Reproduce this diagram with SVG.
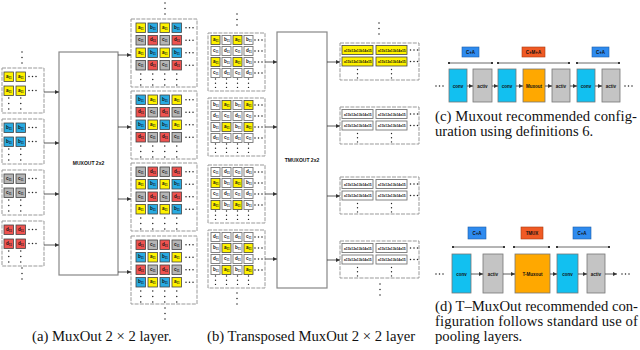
<svg xmlns="http://www.w3.org/2000/svg" width="640" height="350" viewBox="0 0 640 350">
<style>
.cl{stroke:#444;stroke-width:0.8}
.cw{stroke:#777;stroke-width:0.9;fill:#fff}
.ct{font-family:"Liberation Sans",Arial,sans-serif;font-size:4.6px;font-weight:bold;fill:#111}
.sb{font-size:2.8px}
.grp{fill:#fff;stroke:#999;stroke-width:1;stroke-dasharray:4 1.2}
.box{fill:#fff;stroke:#888;stroke-width:1.2}
.lbl{font-family:"Liberation Sans",Arial,sans-serif;font-size:5px;font-weight:bold;fill:#111;text-anchor:middle}
.con line{stroke:#333;stroke-width:0.8;marker-end:url(#ah)}
.span line{stroke:#444;stroke-width:0.8;marker-start:url(#dt);marker-end:url(#dt)}
.cap{font-family:"Liberation Serif","Times New Roman",serif;font-size:14.7px;fill:#111}
.blk{stroke:#777;stroke-width:0.8}
.bt{font-family:"Liberation Sans",Arial,sans-serif;font-size:4.5px;font-weight:bold;fill:#111;text-anchor:middle}
.dots{fill:#222}
.wt{font-family:"Liberation Sans",Arial,sans-serif;font-size:3.3px;font-weight:bold;fill:#111}
.cy{fill:#fff200}.cb{fill:#29abe2}.cg{fill:#b5b5b5}.cr{fill:#ef5350}
.lb{fill:#2e8bef;stroke:#1d5ea8;stroke-width:0.6}
.lo{fill:#f05a24;stroke:#a83a10;stroke-width:0.6}
.bc{fill:#12c0f0}.bg{fill:#c4c4c4}.bo{fill:#ffa800}
</style>
<defs>
<marker id="ah" viewBox="0 0 6 6" refX="6" refY="3" markerWidth="5" markerHeight="5" orient="auto"><path d="M0,0L6,3L0,6z" fill="#333"/></marker>
<marker id="dt" viewBox="0 0 4 4" refX="2" refY="2" markerWidth="3" markerHeight="3"><circle cx="2" cy="2" r="2" fill="#333"/></marker>
<g id="hd" class="dots"><circle cx="0" cy="0" r="0.75"/><circle cx="3.5" cy="0" r="0.75"/><circle cx="7" cy="0" r="0.75"/></g>
<g id="vd" class="dots"><circle cx="0" cy="0" r="0.75"/><circle cx="0" cy="5.5" r="0.75"/><circle cx="0" cy="11" r="0.75"/></g>
<g id="vs" class="dots"><circle cx="0" cy="0" r="0.7"/><circle cx="0" cy="4.2" r="0.7"/><circle cx="0" cy="8.4" r="0.7"/></g>
<g id="a"><rect class="cl cy" width="9.5" height="9.5"/><text class="ct" x="2" y="5.6">a<tspan class="sb" dy="1.2">11</tspan></text></g>
<g id="b"><rect class="cl cb" width="9.5" height="9.5"/><text class="ct" x="2" y="5.6">b<tspan class="sb" dy="1.2">11</tspan></text></g>
<g id="c"><rect class="cl cg" width="9.5" height="9.5"/><text class="ct" x="2" y="5.6">c<tspan class="sb" dy="1.2">11</tspan></text></g>
<g id="d"><rect class="cl cr" width="9.5" height="9.5"/><text class="ct" x="2" y="5.6">d<tspan class="sb" dy="1.2">11</tspan></text></g>
<g id="ya"><rect class="cl cy" width="9" height="9"/><text class="ct" x="2" y="5.4">a<tspan class="sb" dy="1.2">11</tspan></text></g>
<g id="wb"><rect class="cw" width="9" height="9"/><text class="ct" x="2" y="5.4">b<tspan class="sb" dy="1.2">11</tspan></text></g>
<g id="wc"><rect class="cw" width="9" height="9"/><text class="ct" x="2" y="5.4">c<tspan class="sb" dy="1.2">11</tspan></text></g>
<g id="wd"><rect class="cw" width="9" height="9"/><text class="ct" x="2" y="5.4">d<tspan class="sb" dy="1.2">11</tspan></text></g>
<g id="wy"><rect class="cl cy" width="31" height="9"/><text class="wt" x="2" y="6">a11b12a13b14a15</text></g>
<g id="ww"><rect class="cw" width="31" height="9"/><text class="wt" x="2" y="6">a11b12a13b14a15</text></g>
</defs>
<rect width="640" height="350" fill="#fff"/>

<!-- Panel (a) inputs -->
<g id="a-in-1"><rect class="grp" x="2" y="68" width="42" height="45"/>
<use href="#a" x="4" y="72"/><use href="#a" x="16" y="72"/><use href="#a" x="4" y="86"/><use href="#a" x="16" y="86"/>
<use href="#hd" x="29" y="76.5"/><use href="#hd" x="29" y="90.5"/><use href="#vd" x="8.75" y="98"/><use href="#vd" x="20.75" y="98"/></g>
<g id="a-in-2"><rect class="grp" x="2" y="119" width="42" height="45"/>
<use href="#b" x="4" y="123"/><use href="#b" x="16" y="123"/><use href="#b" x="4" y="137"/><use href="#b" x="16" y="137"/>
<use href="#hd" x="29" y="127.5"/><use href="#hd" x="29" y="141.5"/><use href="#vd" x="8.75" y="149"/><use href="#vd" x="20.75" y="149"/></g>
<g id="a-in-3"><rect class="grp" x="2" y="170" width="42" height="45"/>
<use href="#c" x="4" y="174"/><use href="#c" x="16" y="174"/><use href="#c" x="4" y="188"/><use href="#c" x="16" y="188"/>
<use href="#hd" x="29" y="178.5"/><use href="#hd" x="29" y="192.5"/><use href="#vd" x="8.75" y="200"/><use href="#vd" x="20.75" y="200"/></g>
<g id="a-in-4"><rect class="grp" x="2" y="221" width="42" height="45"/>
<use href="#d" x="4" y="225"/><use href="#d" x="16" y="225"/><use href="#d" x="4" y="239"/><use href="#d" x="16" y="239"/>
<use href="#hd" x="29" y="229.5"/><use href="#hd" x="29" y="243.5"/><use href="#vd" x="8.75" y="251"/><use href="#vd" x="20.75" y="251"/></g>
<use href="#vd" x="22" y="52"/><use href="#vd" x="22" y="268"/>

<g id="muxout"><rect class="box" x="59" y="52" width="59" height="223"/><text class="lbl" x="88.5" y="165">MUXOUT 2x2</text></g>

<!-- Panel (a) outputs -->
<g id="a-out-1"><rect class="grp" x="131" y="19" width="66" height="68"/>
<use href="#a" x="136" y="23"/><use href="#b" x="148" y="23"/><use href="#a" x="160" y="23"/><use href="#b" x="172" y="23"/>
<use href="#c" x="136" y="35.5"/><use href="#d" x="148" y="35.5"/><use href="#c" x="160" y="35.5"/><use href="#d" x="172" y="35.5"/>
<use href="#a" x="136" y="48"/><use href="#b" x="148" y="48"/><use href="#a" x="160" y="48"/><use href="#b" x="172" y="48"/>
<use href="#c" x="136" y="60.5"/><use href="#d" x="148" y="60.5"/><use href="#c" x="160" y="60.5"/><use href="#d" x="172" y="60.5"/>
<use href="#hd" x="186" y="27.75"/><use href="#hd" x="186" y="40.25"/><use href="#hd" x="186" y="52.75"/><use href="#hd" x="186" y="65.25"/>
<use href="#vd" x="140.75" y="74"/><use href="#vd" x="152.75" y="74"/><use href="#vd" x="164.75" y="74"/><use href="#vd" x="176.75" y="74"/></g>
<g id="a-out-2"><rect class="grp" x="131" y="91" width="66" height="68"/>
<use href="#b" x="136" y="95"/><use href="#a" x="148" y="95"/><use href="#b" x="160" y="95"/><use href="#a" x="172" y="95"/>
<use href="#d" x="136" y="107.5"/><use href="#c" x="148" y="107.5"/><use href="#d" x="160" y="107.5"/><use href="#c" x="172" y="107.5"/>
<use href="#b" x="136" y="120"/><use href="#a" x="148" y="120"/><use href="#b" x="160" y="120"/><use href="#a" x="172" y="120"/>
<use href="#d" x="136" y="132.5"/><use href="#c" x="148" y="132.5"/><use href="#d" x="160" y="132.5"/><use href="#c" x="172" y="132.5"/>
<use href="#hd" x="186" y="99.75"/><use href="#hd" x="186" y="112.25"/><use href="#hd" x="186" y="124.75"/><use href="#hd" x="186" y="137.25"/>
<use href="#vd" x="140.75" y="146"/><use href="#vd" x="152.75" y="146"/><use href="#vd" x="164.75" y="146"/><use href="#vd" x="176.75" y="146"/></g>
<g id="a-out-3"><rect class="grp" x="131" y="163" width="66" height="68"/>
<use href="#c" x="136" y="167"/><use href="#d" x="148" y="167"/><use href="#c" x="160" y="167"/><use href="#d" x="172" y="167"/>
<use href="#a" x="136" y="179.5"/><use href="#b" x="148" y="179.5"/><use href="#a" x="160" y="179.5"/><use href="#b" x="172" y="179.5"/>
<use href="#c" x="136" y="192"/><use href="#d" x="148" y="192"/><use href="#c" x="160" y="192"/><use href="#d" x="172" y="192"/>
<use href="#a" x="136" y="204.5"/><use href="#b" x="148" y="204.5"/><use href="#a" x="160" y="204.5"/><use href="#b" x="172" y="204.5"/>
<use href="#hd" x="186" y="171.75"/><use href="#hd" x="186" y="184.25"/><use href="#hd" x="186" y="196.75"/><use href="#hd" x="186" y="209.25"/>
<use href="#vd" x="140.75" y="218"/><use href="#vd" x="152.75" y="218"/><use href="#vd" x="164.75" y="218"/><use href="#vd" x="176.75" y="218"/></g>
<g id="a-out-4"><rect class="grp" x="131" y="236" width="66" height="68"/>
<use href="#d" x="136" y="240"/><use href="#c" x="148" y="240"/><use href="#d" x="160" y="240"/><use href="#c" x="172" y="240"/>
<use href="#b" x="136" y="252.5"/><use href="#a" x="148" y="252.5"/><use href="#b" x="160" y="252.5"/><use href="#a" x="172" y="252.5"/>
<use href="#d" x="136" y="265"/><use href="#c" x="148" y="265"/><use href="#d" x="160" y="265"/><use href="#c" x="172" y="265"/>
<use href="#b" x="136" y="277.5"/><use href="#a" x="148" y="277.5"/><use href="#b" x="160" y="277.5"/><use href="#a" x="172" y="277.5"/>
<use href="#hd" x="186" y="244.75"/><use href="#hd" x="186" y="257.25"/><use href="#hd" x="186" y="269.75"/><use href="#hd" x="186" y="282.25"/>
<use href="#vd" x="140.75" y="291"/><use href="#vd" x="152.75" y="291"/><use href="#vd" x="164.75" y="291"/><use href="#vd" x="176.75" y="291"/></g>
<use href="#vd" x="165" y="3"/><use href="#vd" x="165" y="308"/>

<!-- Panel (b) inputs -->
<g id="b-in-1"><rect class="grp" x="208" y="33" width="57" height="58"/>
<use href="#ya" x="211" y="35.5"/><use href="#wb" x="222" y="35.5"/><use href="#ya" x="233" y="35.5"/><use href="#wb" x="244" y="35.5"/>
<use href="#wc" x="211" y="46.5"/><use href="#wd" x="222" y="46.5"/><use href="#wc" x="233" y="46.5"/><use href="#wd" x="244" y="46.5"/>
<use href="#ya" x="211" y="57.5"/><use href="#wb" x="222" y="57.5"/><use href="#ya" x="233" y="57.5"/><use href="#wb" x="244" y="57.5"/>
<use href="#wc" x="211" y="68.5"/><use href="#wd" x="222" y="68.5"/><use href="#wc" x="233" y="68.5"/><use href="#wd" x="244" y="68.5"/>
<use href="#hd" x="255" y="40"/><use href="#hd" x="255" y="51"/><use href="#hd" x="255" y="62"/><use href="#hd" x="255" y="73"/>
<use href="#vs" x="215.5" y="79"/><use href="#vs" x="226.5" y="79"/><use href="#vs" x="237.5" y="79"/><use href="#vs" x="248.5" y="79"/></g>
<g id="b-in-2"><rect class="grp" x="208" y="98" width="57" height="58"/>
<use href="#wb" x="211" y="100.5"/><use href="#ya" x="222" y="100.5"/><use href="#wb" x="233" y="100.5"/><use href="#ya" x="244" y="100.5"/>
<use href="#wd" x="211" y="111.5"/><use href="#wc" x="222" y="111.5"/><use href="#wd" x="233" y="111.5"/><use href="#wc" x="244" y="111.5"/>
<use href="#wb" x="211" y="122.5"/><use href="#ya" x="222" y="122.5"/><use href="#wb" x="233" y="122.5"/><use href="#ya" x="244" y="122.5"/>
<use href="#wd" x="211" y="133.5"/><use href="#wc" x="222" y="133.5"/><use href="#wd" x="233" y="133.5"/><use href="#wc" x="244" y="133.5"/>
<use href="#hd" x="255" y="105"/><use href="#hd" x="255" y="116"/><use href="#hd" x="255" y="127"/><use href="#hd" x="255" y="138"/>
<use href="#vs" x="215.5" y="144"/><use href="#vs" x="226.5" y="144"/><use href="#vs" x="237.5" y="144"/><use href="#vs" x="248.5" y="144"/></g>
<g id="b-in-3"><rect class="grp" x="208" y="165" width="57" height="58"/>
<use href="#wc" x="211" y="167.5"/><use href="#wd" x="222" y="167.5"/><use href="#wc" x="233" y="167.5"/><use href="#wd" x="244" y="167.5"/>
<use href="#ya" x="211" y="178.5"/><use href="#wb" x="222" y="178.5"/><use href="#ya" x="233" y="178.5"/><use href="#wb" x="244" y="178.5"/>
<use href="#wc" x="211" y="189.5"/><use href="#wd" x="222" y="189.5"/><use href="#wc" x="233" y="189.5"/><use href="#wd" x="244" y="189.5"/>
<use href="#ya" x="211" y="200.5"/><use href="#wb" x="222" y="200.5"/><use href="#ya" x="233" y="200.5"/><use href="#wb" x="244" y="200.5"/>
<use href="#hd" x="255" y="172"/><use href="#hd" x="255" y="183"/><use href="#hd" x="255" y="194"/><use href="#hd" x="255" y="205"/>
<use href="#vs" x="215.5" y="211"/><use href="#vs" x="226.5" y="211"/><use href="#vs" x="237.5" y="211"/><use href="#vs" x="248.5" y="211"/></g>
<g id="b-in-4"><rect class="grp" x="208" y="230" width="57" height="58"/>
<use href="#wd" x="211" y="232.5"/><use href="#wc" x="222" y="232.5"/><use href="#wd" x="233" y="232.5"/><use href="#wc" x="244" y="232.5"/>
<use href="#wb" x="211" y="243.5"/><use href="#ya" x="222" y="243.5"/><use href="#wb" x="233" y="243.5"/><use href="#ya" x="244" y="243.5"/>
<use href="#wd" x="211" y="254.5"/><use href="#wc" x="222" y="254.5"/><use href="#wd" x="233" y="254.5"/><use href="#wc" x="244" y="254.5"/>
<use href="#wb" x="211" y="265.5"/><use href="#ya" x="222" y="265.5"/><use href="#wb" x="233" y="265.5"/><use href="#ya" x="244" y="265.5"/>
<use href="#hd" x="255" y="237"/><use href="#hd" x="255" y="248"/><use href="#hd" x="255" y="259"/><use href="#hd" x="255" y="270"/>
<use href="#vs" x="215.5" y="276"/><use href="#vs" x="226.5" y="276"/><use href="#vs" x="237.5" y="276"/><use href="#vs" x="248.5" y="276"/></g>
<use href="#vd" x="237" y="14"/><use href="#vd" x="237" y="293"/>

<g id="tmuxout"><rect class="box" x="277" y="32" width="50" height="256"/><text class="lbl" x="302" y="162">TMUXOUT 2x2</text></g>

<!-- Panel (b) outputs -->
<g id="b-out-1"><rect class="grp" x="340" y="43" width="79" height="37"/>
<use href="#wy" x="342" y="45.5"/><use href="#wy" x="376" y="45.5"/><use href="#wy" x="342" y="57"/><use href="#wy" x="376" y="57"/>
<use href="#hd" x="410.5" y="50"/><use href="#hd" x="410.5" y="61.5"/><use href="#vs" x="357.5" y="69.5"/><use href="#vs" x="391.5" y="69.5"/></g>
<g id="b-out-2"><rect class="grp" x="340" y="107" width="79" height="37"/>
<use href="#ww" x="342" y="109.5"/><use href="#ww" x="376" y="109.5"/><use href="#ww" x="342" y="121"/><use href="#ww" x="376" y="121"/>
<use href="#hd" x="410.5" y="114"/><use href="#hd" x="410.5" y="125.5"/><use href="#vs" x="357.5" y="133.5"/><use href="#vs" x="391.5" y="133.5"/></g>
<g id="b-out-3"><rect class="grp" x="340" y="177" width="79" height="37"/>
<use href="#ww" x="342" y="179.5"/><use href="#ww" x="376" y="179.5"/><use href="#ww" x="342" y="191"/><use href="#ww" x="376" y="191"/>
<use href="#hd" x="410.5" y="184"/><use href="#hd" x="410.5" y="195.5"/><use href="#vs" x="357.5" y="203.5"/><use href="#vs" x="391.5" y="203.5"/></g>
<g id="b-out-4"><rect class="grp" x="340" y="241" width="79" height="37"/>
<use href="#ww" x="342" y="243.5"/><use href="#ww" x="376" y="243.5"/><use href="#ww" x="342" y="255"/><use href="#ww" x="376" y="255"/>
<use href="#hd" x="410.5" y="248"/><use href="#hd" x="410.5" y="259.5"/><use href="#vs" x="357.5" y="267.5"/><use href="#vs" x="391.5" y="267.5"/></g>
<use href="#vd" x="379" y="23"/><use href="#vd" x="380" y="284"/>

<!-- Panel (c) -->
<g id="c-labels">
<rect class="lb" x="462" y="47" width="17" height="10"/><text class="bt" x="470.5" y="53.6">C+A</text>
<rect class="lo" x="522" y="47" width="23" height="10"/><text class="bt" x="533.5" y="53.6">C+M+A</text>
<rect class="lb" x="592" y="47" width="17" height="10"/><text class="bt" x="600.5" y="53.6">C+A</text></g>
<g id="c-spans" class="span"><line x1="449" y1="63" x2="492" y2="63"/><line x1="498" y1="63" x2="569" y2="63"/><line x1="577" y1="63" x2="619" y2="63"/></g>
<g id="c-conv1"><rect class="blk bc" x="449" y="69" width="18" height="33"/><text class="bt" x="458" y="87.5">conv</text></g>
<g id="c-activ1"><rect class="blk bg" x="473" y="69" width="19" height="33"/><text class="bt" x="482.5" y="87.5">activ</text></g>
<g id="c-conv2"><rect class="blk bc" x="498" y="69" width="18" height="33"/><text class="bt" x="507" y="87.5">conv</text></g>
<g id="c-muxout"><rect class="blk bo" x="523" y="69" width="22" height="33"/><text class="bt" x="534" y="87.5">Muxout</text></g>
<g id="c-activ2"><rect class="blk bg" x="552" y="69" width="18" height="33"/><text class="bt" x="561" y="87.5">activ</text></g>
<g id="c-conv3"><rect class="blk bc" x="577" y="69" width="18" height="33"/><text class="bt" x="586" y="87.5">conv</text></g>
<g id="c-activ3"><rect class="blk bg" x="602" y="69" width="18" height="33"/><text class="bt" x="611" y="87.5">activ</text></g>
<use href="#hd" x="436" y="86"/><use href="#hd" x="625" y="86"/>

<!-- Panel (d) -->
<g id="d-labels">
<rect class="lb" x="468" y="227" width="18" height="12"/><text class="bt" x="477" y="234.6">C+A</text>
<rect class="lo" x="521" y="227" width="22" height="12"/><text class="bt" x="532" y="234.6">TMUX</text>
<rect class="lb" x="573" y="227" width="18" height="12"/><text class="bt" x="582" y="234.6">C+A</text></g>
<g id="d-spans" class="span"><line x1="453" y1="247" x2="504" y2="247"/><line x1="514" y1="247" x2="549" y2="247"/><line x1="557" y1="247" x2="609" y2="247"/></g>
<g id="d-conv1"><rect class="blk bc" x="452" y="254" width="19" height="39"/><text class="bt" x="461.5" y="275.5">conv</text></g>
<g id="d-activ1"><rect class="blk bg" x="483" y="254" width="20" height="39"/><text class="bt" x="493" y="275.5">activ</text></g>
<g id="d-tmuxout"><rect class="blk bo" x="515" y="254" width="35" height="39"/><text class="bt" x="532.5" y="275.5">T-Muxout</text></g>
<g id="d-conv2"><rect class="blk bc" x="557" y="254" width="21" height="39"/><text class="bt" x="567.5" y="275.5">conv</text></g>
<g id="d-activ2"><rect class="blk bg" x="587" y="254" width="18" height="39"/><text class="bt" x="596" y="275.5">activ</text></g>
<use href="#hd" x="436" y="274"/><use href="#hd" x="622" y="274"/>

<g id="connectors" class="con">
<line x1="44" y1="92" x2="59" y2="92"/><line x1="44" y1="143" x2="59" y2="143"/><line x1="44" y1="194" x2="59" y2="194"/><line x1="44" y1="245" x2="59" y2="245"/>
<line x1="118" y1="55" x2="131" y2="55"/><line x1="118" y1="127" x2="131" y2="127"/><line x1="118" y1="199" x2="131" y2="199"/><line x1="118" y1="272" x2="131" y2="272"/>
<line x1="265" y1="62" x2="277" y2="62"/><line x1="265" y1="127" x2="277" y2="127"/><line x1="265" y1="194" x2="277" y2="194"/><line x1="265" y1="259" x2="277" y2="259"/>
<line x1="327" y1="62" x2="340" y2="62"/><line x1="327" y1="126" x2="340" y2="126"/><line x1="327" y1="196" x2="340" y2="196"/><line x1="327" y1="260" x2="340" y2="260"/>
<line x1="467" y1="86" x2="473" y2="86"/><line x1="492" y1="86" x2="498" y2="86"/><line x1="516" y1="86" x2="523" y2="86"/><line x1="545" y1="86" x2="552" y2="86"/><line x1="570" y1="86" x2="577" y2="86"/><line x1="595" y1="86" x2="602" y2="86"/>
<line x1="471" y1="274" x2="483" y2="274"/><line x1="503" y1="274" x2="515" y2="274"/><line x1="550" y1="274" x2="557" y2="274"/><line x1="578" y1="274" x2="587" y2="274"/><line x1="605" y1="274" x2="617" y2="274"/>
</g>

<!-- Captions -->
<text class="cap" x="32" y="341">(a) MuxOut 2 × 2 layer.</text>
<text class="cap" x="207" y="341">(b) Transposed MuxOut 2 × 2 layer</text>
<text class="cap" x="435" y="121" textLength="202" lengthAdjust="spacing">(c) Muxout recommended config-</text>
<text class="cap" x="435" y="136">uration using definitions 6.</text>
<text class="cap" x="435" y="311" textLength="203" lengthAdjust="spacing">(d) T–MuxOut recommended con-</text>
<text class="cap" x="435" y="326" textLength="203" lengthAdjust="spacing">figuration follows standard use of</text>
<text class="cap" x="435" y="341">pooling layers.</text>
</svg>
